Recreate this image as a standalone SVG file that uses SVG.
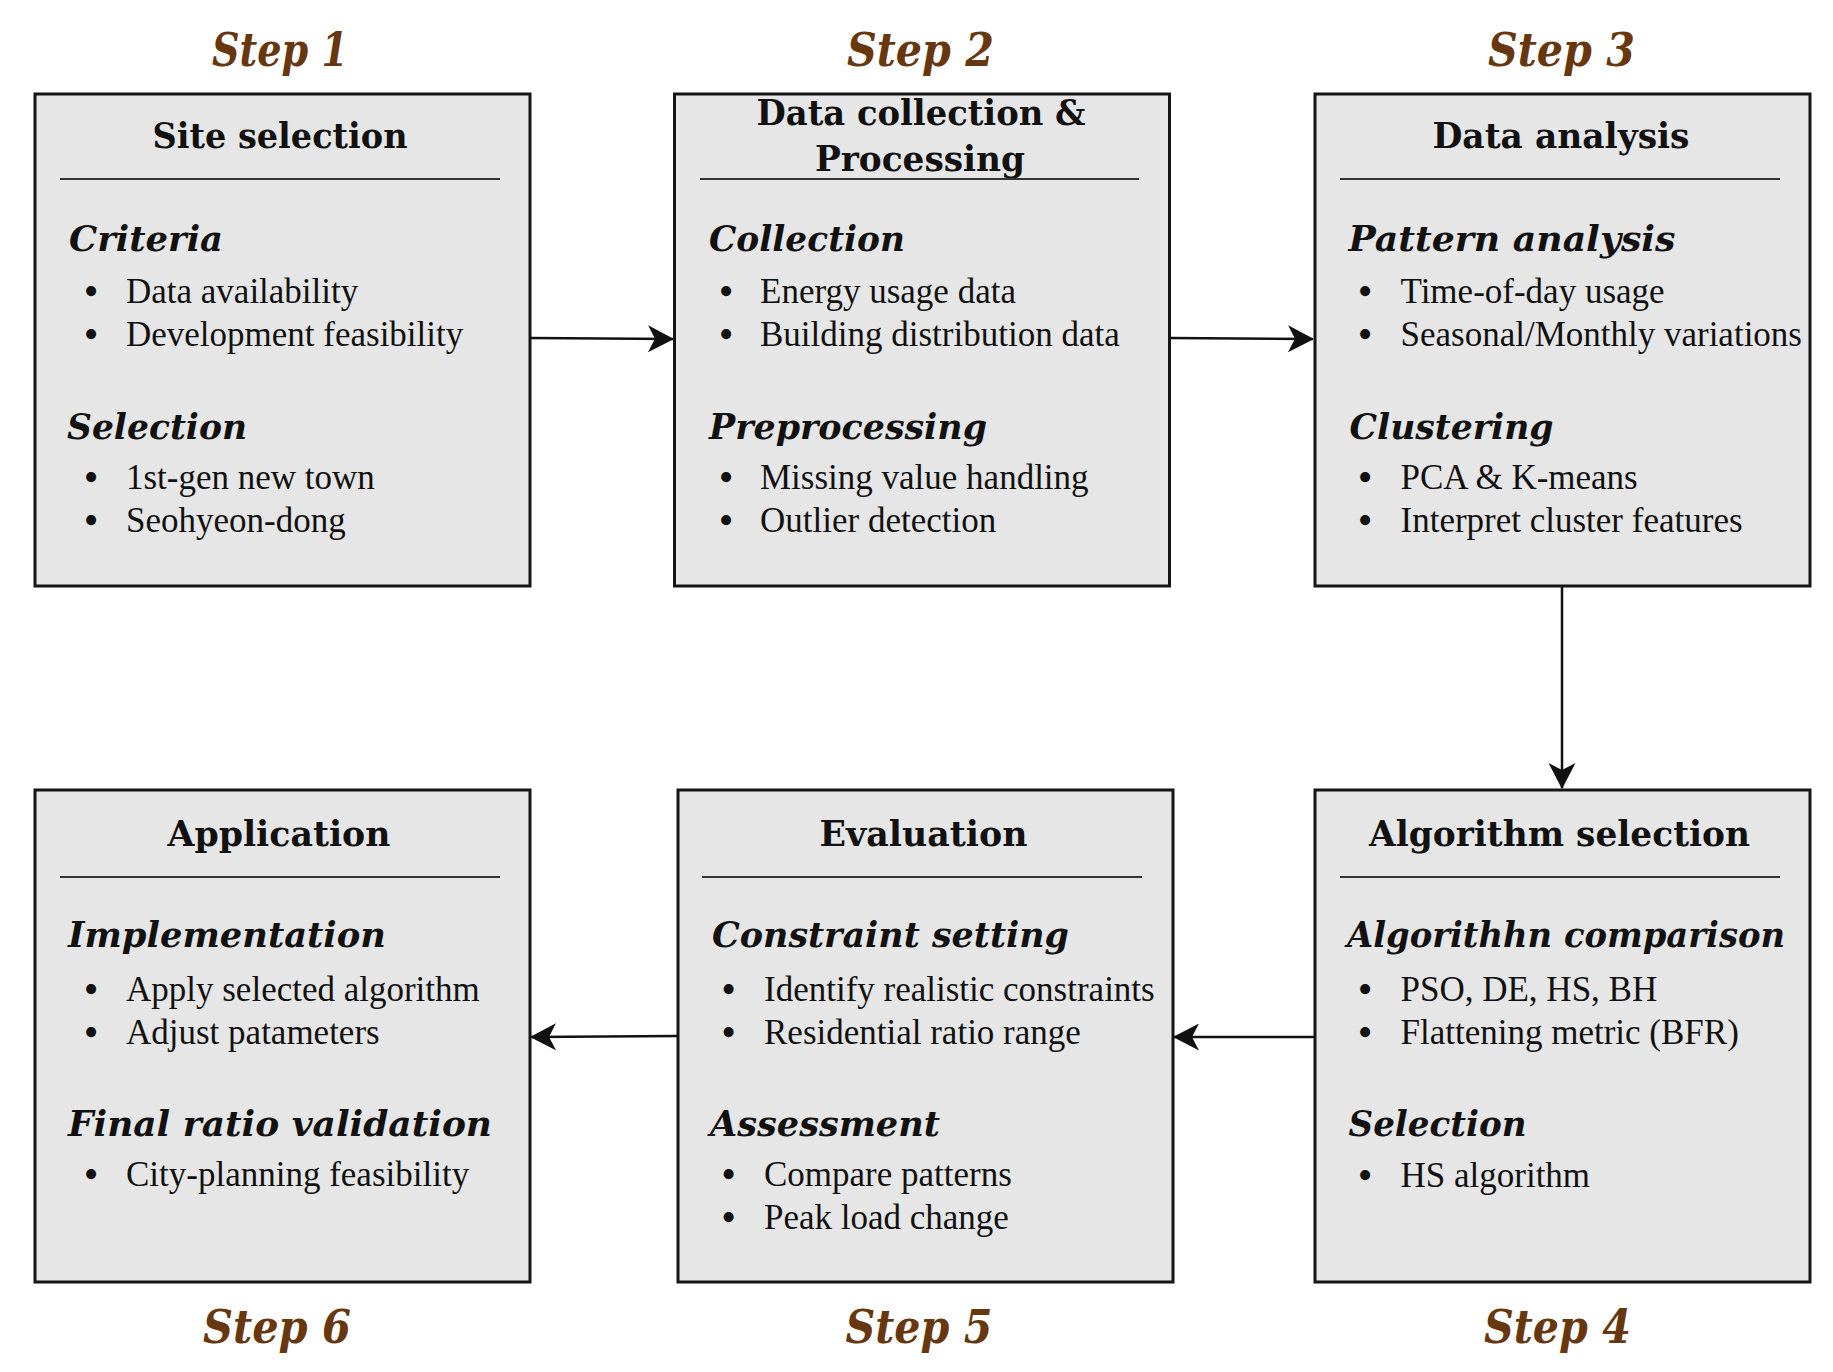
<svg xmlns="http://www.w3.org/2000/svg" width="1833" height="1372" viewBox="0 0 1833 1372">
<style>
.box{fill:#e6e6e6;stroke:#151515;stroke-width:3}
.rule{stroke:#333;stroke-width:1.8}
.step{font-family:"DejaVu Serif",serif;font-weight:bold;font-style:italic;font-size:46px;fill:#673810;text-anchor:middle}
.title{font-family:"DejaVu Serif",serif;font-weight:bold;font-size:36px;fill:#111;text-anchor:middle}
.sub{font-family:"DejaVu Serif",serif;font-weight:bold;font-style:italic;font-size:36px;fill:#111}
.item{font-family:"Liberation Serif","Times New Roman",serif;font-size:35px;fill:#111}
.bul{font-family:"Liberation Serif","Times New Roman",serif;font-size:42px;fill:#111;text-anchor:middle}
.conn{stroke:#111;stroke-width:2.5;fill:none;marker-end:url(#arr)}
</style>
<defs>
<marker id="arr" viewBox="0 0 26 27" refX="25" refY="13.5" markerWidth="26" markerHeight="27" markerUnits="userSpaceOnUse" orient="auto">
<path d="M0,0 L26,13.5 L0,27 L7,13.5 Z" fill="#111"/>
</marker>
</defs>
<rect width="1833" height="1372" fill="#fff"/>

<g id="connectors">
<path class="conn" d="M531,338 L673,339"/>
<path class="conn" d="M1170,338 L1313,339"/>
<path class="conn" d="M1562,587 L1562,788"/>
<path class="conn" d="M1315,1037 L1174,1037"/>
<path class="conn" d="M678,1036 L531,1037"/>
</g>

<g id="step1">
<text class="step" x="280" y="66" textLength="136" lengthAdjust="spacingAndGlyphs">Step 1</text>
<rect class="box" x="35" y="94" width="495" height="492"/>
<text class="title" x="280" y="148" textLength="255" lengthAdjust="spacingAndGlyphs">Site selection</text>
<line class="rule" x1="60" y1="179" x2="500" y2="179"/>
<text class="sub" x="69" y="251" textLength="154" lengthAdjust="spacingAndGlyphs">Criteria</text>
<text class="bul" x="91" y="305">•</text><text class="item" x="126" y="303">Data availability</text>
<text class="bul" x="91" y="348">•</text><text class="item" x="126" y="346">Development feasibility</text>
<text class="sub" x="67" y="439" textLength="180" lengthAdjust="spacingAndGlyphs">Selection</text>
<text class="bul" x="91" y="491">•</text><text class="item" x="126" y="489">1st-gen new town</text>
<text class="bul" x="91" y="534">•</text><text class="item" x="126" y="532">Seohyeon-dong</text>
</g>

<g id="step2">
<text class="step" x="920.5" y="66" textLength="147" lengthAdjust="spacingAndGlyphs">Step 2</text>
<rect class="box" x="674.5" y="94" width="495" height="492"/>
<text class="title" x="921" y="125" textLength="329" lengthAdjust="spacingAndGlyphs">Data collection &amp;</text>
<text class="title" x="920" y="171" textLength="210" lengthAdjust="spacingAndGlyphs">Processing</text>
<line class="rule" x1="700" y1="179" x2="1139" y2="179"/>
<text class="sub" x="709" y="251" textLength="196" lengthAdjust="spacingAndGlyphs">Collection</text>
<text class="bul" x="726" y="305">•</text><text class="item" x="760" y="303">Energy usage data</text>
<text class="bul" x="726" y="348">•</text><text class="item" x="760" y="346">Building distribution data</text>
<text class="sub" x="709" y="439" textLength="278" lengthAdjust="spacingAndGlyphs">Preprocessing</text>
<text class="bul" x="726" y="491">•</text><text class="item" x="760" y="489">Missing value handling</text>
<text class="bul" x="726" y="534">•</text><text class="item" x="760" y="532">Outlier detection</text>
</g>

<g id="step3">
<text class="step" x="1561.5" y="66" textLength="147" lengthAdjust="spacingAndGlyphs">Step 3</text>
<rect class="box" x="1315" y="94" width="495" height="492"/>
<text class="title" x="1561" y="148" textLength="257" lengthAdjust="spacingAndGlyphs">Data analysis</text>
<line class="rule" x1="1340" y1="179" x2="1780" y2="179"/>
<text class="sub" x="1348.5" y="251" textLength="327" lengthAdjust="spacingAndGlyphs">Pattern analysis</text>
<text class="bul" x="1365" y="305">•</text><text class="item" x="1400.5" y="303">Time-of-day usage</text>
<text class="bul" x="1365" y="348">•</text><text class="item" x="1400.5" y="346">Seasonal/Monthly variations</text>
<text class="sub" x="1349.5" y="439" textLength="204" lengthAdjust="spacingAndGlyphs">Clustering</text>
<text class="bul" x="1365" y="491">•</text><text class="item" x="1400.5" y="489">PCA &amp; K-means</text>
<text class="bul" x="1365" y="534">•</text><text class="item" x="1400.5" y="532">Interpret cluster features</text>
</g>

<g id="step4">
<rect class="box" x="1315" y="790" width="495" height="492"/>
<text class="title" x="1559.5" y="846" textLength="381" lengthAdjust="spacingAndGlyphs">Algorithm selection</text>
<line class="rule" x1="1340" y1="877" x2="1780" y2="877"/>
<text class="sub" x="1347" y="947" textLength="438" lengthAdjust="spacingAndGlyphs">Algorithhn comparison</text>
<text class="bul" x="1365" y="1003">•</text><text class="item" x="1400.5" y="1001">PSO, DE, HS, BH</text>
<text class="bul" x="1365" y="1046">•</text><text class="item" x="1400.5" y="1044">Flattening metric (BFR)</text>
<text class="sub" x="1348.5" y="1136" textLength="178" lengthAdjust="spacingAndGlyphs">Selection</text>
<text class="bul" x="1365" y="1189">•</text><text class="item" x="1400.5" y="1187">HS algorithm</text>
<text class="step" x="1557.5" y="1343" textLength="147" lengthAdjust="spacingAndGlyphs">Step 4</text>
</g>

<g id="step5">
<rect class="box" x="678" y="790" width="495" height="492"/>
<text class="title" x="923.5" y="846" textLength="208" lengthAdjust="spacingAndGlyphs">Evaluation</text>
<line class="rule" x1="702" y1="877" x2="1142" y2="877"/>
<text class="sub" x="712" y="947" textLength="357" lengthAdjust="spacingAndGlyphs">Constraint setting</text>
<text class="bul" x="728.5" y="1003">•</text><text class="item" x="764" y="1001">Identify realistic constraints</text>
<text class="bul" x="728.5" y="1046">•</text><text class="item" x="764" y="1044">Residential ratio range</text>
<text class="sub" x="710" y="1136" textLength="230" lengthAdjust="spacingAndGlyphs">Assessment</text>
<text class="bul" x="728.5" y="1188">•</text><text class="item" x="764" y="1186">Compare patterns</text>
<text class="bul" x="728.5" y="1231">•</text><text class="item" x="764" y="1229">Peak load change</text>
<text class="step" x="919" y="1343" textLength="147" lengthAdjust="spacingAndGlyphs">Step 5</text>
</g>

<g id="step6">
<rect class="box" x="35" y="790" width="495" height="492"/>
<text class="title" x="279" y="846" textLength="223" lengthAdjust="spacingAndGlyphs">Application</text>
<line class="rule" x1="60" y1="877" x2="500" y2="877"/>
<text class="sub" x="68" y="947" textLength="318" lengthAdjust="spacingAndGlyphs">Implementation</text>
<text class="bul" x="91" y="1003">•</text><text class="item" x="126" y="1001">Apply selected algorithm</text>
<text class="bul" x="91" y="1046">•</text><text class="item" x="126" y="1044">Adjust patameters</text>
<text class="sub" x="68" y="1136" textLength="424" lengthAdjust="spacingAndGlyphs">Final ratio validation</text>
<text class="bul" x="91" y="1188">•</text><text class="item" x="126" y="1186">City-planning feasibility</text>
<text class="step" x="277" y="1343" textLength="148" lengthAdjust="spacingAndGlyphs">Step 6</text>
</g>
</svg>
